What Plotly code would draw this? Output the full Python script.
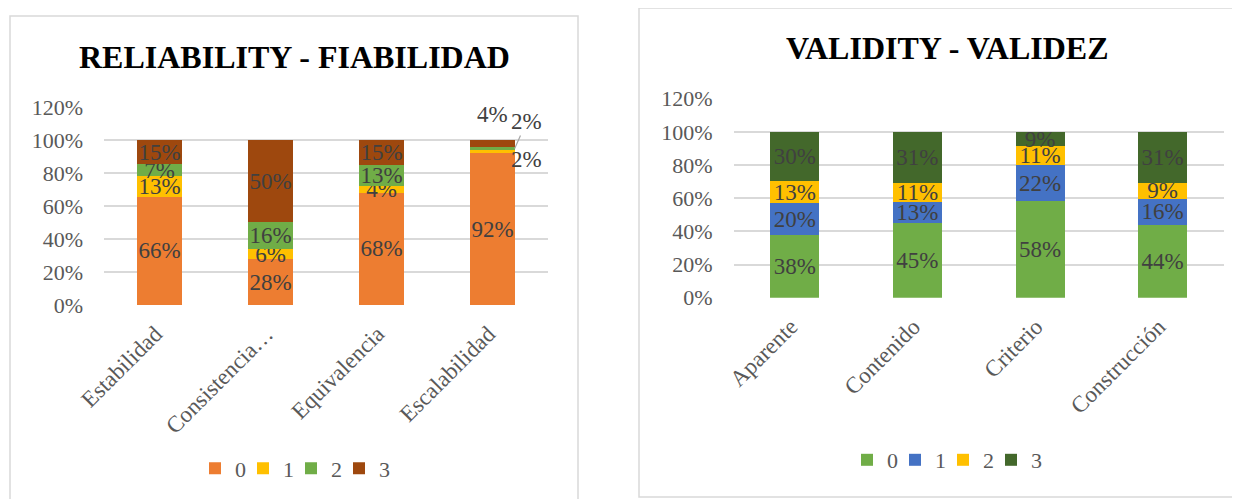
import plotly.graph_objects as go

# Reliability - Fiabilidad
rel_categories = ["Estabilidad", "Consistencia…", "Equivalencia", "Escalabilidad"]
rel_0 = [0.656, 0.277, 0.681, 0.92]
rel_1 = [0.127, 0.062, 0.042, 0.02]
rel_2 = [0.071, 0.164, 0.128, 0.02]
rel_3 = [0.146, 0.497, 0.149, 0.04]

# Validity - Validez
val_categories = ["Aparente", "Contenido", "Criterio", "Construcción"]
val_0 = [0.376, 0.452, 0.582, 0.437]
val_1 = [0.196, 0.127, 0.219, 0.160]
val_2 = [0.129, 0.113, 0.113, 0.094]
val_3 = [0.300, 0.308, 0.086, 0.309]

series_names = ["0", "1", "2", "3"]
rel_colors = ["#ED7D31", "#FFC000", "#70AD47", "#9E480E"]
val_colors = ["#70AD47", "#4472C4", "#FFC000", "#43682B"]

FONT = "Liberation Serif, Times New Roman, serif"
# the page body has an 8px margin, so the figure is drawn a bit smaller
OFF = 8
W, H = 1240 - OFF, 499 - OFF


def px(x):
    # screen x (px) -> paper fraction
    return (x - OFF) / W


def py(y):
    # screen y (px, from top) -> paper fraction
    return (499 - y) / H


def pct(v):
    return f"{round(v * 100)}%"


fig = go.Figure()

# left chart: the small Escalabilidad segments get their labels outside
for name, vals, color in zip(series_names, [rel_0, rel_1, rel_2, rel_3], rel_colors):
    labels = [pct(v) for v in vals]
    if name != "0":
        labels[3] = ""
    fig.add_trace(
        go.Bar(
            x=rel_categories,
            y=vals,
            name=name,
            marker_color=color,
            marker_line_width=0,
            text=labels,
            textposition="inside",
            insidetextanchor="middle",
            constraintext="none",
            textangle=0,
            textfont=dict(family=FONT, size=23, color="#404040"),
            xaxis="x",
            yaxis="y",
            legend="legend",
        )
    )

for name, vals, color in zip(series_names, [val_0, val_1, val_2, val_3], val_colors):
    fig.add_trace(
        go.Bar(
            x=val_categories,
            y=vals,
            name=name,
            marker_color=color,
            marker_line_width=0,
            text=[pct(v) for v in vals],
            textposition="inside",
            insidetextanchor="middle",
            constraintext="none",
            textangle=0,
            textfont=dict(family=FONT, size=23, color="#404040"),
            xaxis="x2",
            yaxis="y2",
            legend="legend2",
        )
    )

yaxis_common = dict(
    range=[0, 1.2],
    dtick=0.2,
    tickformat=".0%",
    showgrid=True,
    gridcolor="#d9d9d9",
    gridwidth=1.5,
    zeroline=False,
    showline=False,
    ticks="",
    tickfont=dict(family=FONT, size=22, color="#595959"),
    ticklabelstandoff=20,
    automargin=False,
    fixedrange=True,
)
xaxis_common = dict(
    type="category",
    tickangle=-45,
    tickfont=dict(family=FONT, size=23, color="#595959"),
    ticklabelstandoff=10,
    ticklabelshift=-4,
    showline=False,
    showgrid=False,
    ticks="",
    automargin=False,
    fixedrange=True,
)

legend_common = dict(
    orientation="h",
    xanchor="center",
    yanchor="middle",
    traceorder="normal",
    font=dict(family=FONT, size=22, color="#595959"),
    itemwidth=30,
    indentation=-9,
    entrywidth=12,
    bgcolor="rgba(0,0,0,0)",
)

fig.update_layout(
    width=W,
    height=H,
    barmode="stack",
    bargap=0.6,
    plot_bgcolor="white",
    paper_bgcolor="white",
    margin=dict(l=0, r=0, t=0, b=0, autoexpand=False),
    font=dict(family=FONT),
    xaxis=dict(domain=[px(104), px(548)], anchor="y", **xaxis_common),
    yaxis=dict(domain=[py(305), py(107.3)], anchor="x", **yaxis_common),
    xaxis2=dict(domain=[px(733.5), px(1224)], anchor="y2", **xaxis_common),
    yaxis2=dict(domain=[py(297.7), py(98.7)], anchor="x2", **yaxis_common),
    legend=dict(x=px(300), y=py(468.5), **legend_common),
    legend2=dict(x=px(952), y=py(460), **legend_common),
)

# chart frames
fig.add_shape(type="rect", xref="paper", yref="paper",
              x0=px(10), x1=px(578), y0=-0.05, y1=py(16),
              line=dict(color="#d9d9d9", width=1.5), layer="below")
fig.add_shape(type="rect", xref="paper", yref="paper",
              x0=px(639), x1=1.05, y0=py(497), y1=py(8),
              line=dict(color="#d9d9d9", width=1.5), layer="below")

# titles
fig.add_annotation(text="<b>RELIABILITY - FIABILIDAD</b>", xref="paper", yref="paper",
                   x=px(294), y=py(57), xanchor="center", yanchor="middle",
                   showarrow=False, font=dict(family=FONT, size=32, color="#000000"))
fig.add_annotation(text="<b>VALIDITY - VALIDEZ</b>", xref="paper", yref="paper",
                   x=px(947), y=py(48), xanchor="center", yanchor="middle",
                   showarrow=False, font=dict(family=FONT, size=32, color="#000000"))

# outside labels for the thin Escalabilidad segments
label_font = dict(family=FONT, size=23, color="#404040")
top_e = rel_0[3] + rel_1[3] + rel_2[3]
fig.add_annotation(text=pct(rel_3[3]), xref="x", yref="y",
                   x=rel_categories[3], y=top_e + rel_3[3], yshift=26,
                   showarrow=False, font=label_font)
fig.add_annotation(text=pct(rel_1[3]), xref="x", yref="y",
                   x=rel_categories[3], y=rel_0[3] + rel_1[3] / 2,
                   xshift=34, yshift=-8, showarrow=False, font=label_font)
fig.add_annotation(text=pct(rel_2[3]), xref="x", yref="y",
                   x=3.2, y=rel_0[3] + rel_1[3] + rel_2[3] / 2,
                   ax=12, ay=-27, showarrow=True, arrowhead=0,
                   arrowwidth=1.2, arrowcolor="#a6a6a6", font=label_font)

fig.write_html("out.html")
